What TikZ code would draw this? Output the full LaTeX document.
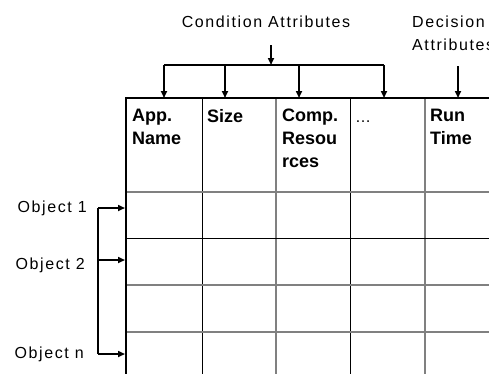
\documentclass[tikz,border=0pt]{standalone}
\usepackage{fontspec}
\setmainfont{Liberation Sans}
\usetikzlibrary{arrows.meta,positioning}

\begin{document}
\begin{tikzpicture}[x=1pt,y=-1pt,>={Triangle[length=7pt,width=6pt]}]
	\tikzset{
		lbl/.style={inner sep=0pt,font=\fontsize{16}{23}\selectfont\addfontfeature{LetterSpace=10}},
		head/.style={inner sep=0pt,anchor=north west,align=left,font=\fontsize{18}{23}\selectfont\bfseries},
		link/.style={line width=1.6pt},
		gline/.style={line width=1.6pt,draw=black!50},
		bline/.style={line width=0.9pt,draw=black}
	}
	\useasboundingbox (0,0) rectangle (489,373);
	% table grid
	\foreach \x/\s in {202/bline,276/gline,350/bline,425/gline}
		\draw[\s] (\x,98) -- (\x,380);
	\foreach \y/\s in {192/gline,238/bline,285/gline,332/gline}
		\draw[\s] (126,\y) -- (495,\y);
	\draw[line width=2.2pt] (126,380) -- (126,98) -- (495,98);
	% header cells
	\node[head] (app) at (132,109) {App.\\Name};
	\node[head] (size) at (207,109) {Size};
	\node[head] (comp) at (282,109) {Comp.\\Resou\\rces};
	\node[head,anchor=base west,font=\fontsize{16}{23}\selectfont] (dots) at (355,122) {\dots};
	\node[head] (run) at (430,109) {Run\\Time};
	% attribute labels
	\node[lbl,anchor=base] (cond) at (266,27) {Condition Attributes};
	\node[lbl,anchor=north west,align=left] (dec) at (412,15.5) {Decision\\Attributes};
	\coordinate (cond in) at (271,45);
	\coordinate (cond mid) at (271,65);
	\draw[link,->] (cond in) -- (cond mid);
	\coordinate (bar l) at (164,65);
	\coordinate (bar r) at (384,65);
	\draw[link] (bar l) -- (bar r);
	\foreach \x/\n in {164/a,225/b,299/c,384/d} {
		\coordinate (bar\n) at (\x,65);
		\coordinate (top\n) at (\x,98);
		\draw[link,->] (bar\n) -- (top\n);
	}
	\coordinate (dec in) at (458,66);
	\coordinate (dec out) at (458,98);
	\draw[link,->] (dec in) -- (dec out);
	% objects
	\node[lbl,anchor=base east] (obj1) at (87,212) {Object 1};
	\node[lbl,anchor=base east] (obj2) at (85,269) {Object 2};
	\node[lbl,anchor=base east] (objn) at (84,358) {Object n};
	\coordinate (o1) at (98,208);
	\coordinate (o2) at (98,260);
	\coordinate (on) at (98,354);
	\coordinate (r1) at (125,208);
	\coordinate (r2) at (125,260);
	\coordinate (rn) at (125,354);
	\draw[link] (o1) -- (on);
	\path[link,->]
		(o1) edge (r1)
		(o2) edge (r2)
		(on) edge (rn);
\end{tikzpicture}
\end{document}
